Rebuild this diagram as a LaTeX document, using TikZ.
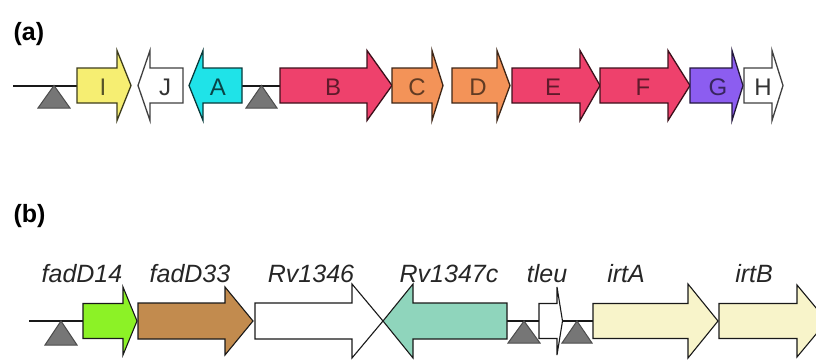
\documentclass[tikz,border=0pt]{standalone}
\usepackage{fontspec}
\setmainfont{Liberation Sans}
\definecolor{cI}{HTML}{F6EE72}
\definecolor{cA}{HTML}{1FE3E8}
\definecolor{cB}{HTML}{EE416C}
\definecolor{cC}{HTML}{F39358}
\definecolor{cG}{HTML}{8C5DF0}
\definecolor{cFa}{HTML}{8CF226}
\definecolor{cFb}{HTML}{C28B4E}
\definecolor{cRv}{HTML}{8FD5BC}
\definecolor{cIrt}{HTML}{F8F4CA}
\definecolor{cTri}{HTML}{767676}
% #1 style, #2 back x, #3 head base x, #4 tip x, #5 centre y, #6 body half height, #7 head half height
\newcommand\genearrow[7]{%
  \draw[#1] (#2,#5-#6) -- (#3,#5-#6) -- (#3,#5-#7) -- (#4,#5) -- (#3,#5+#7)
    -- (#3,#5+#6) -- (#2,#5+#6) -- cycle;}
\newcommand\promoter[4]{% apex x, apex y, half width, base y
  \draw[tri] (#1,#2) -- (#1+#3,#4) -- (#1-#3,#4) -- cycle;}
\begin{document}
\begin{tikzpicture}[x=1pt,y=-1pt,
  gA/.style={fill=#1, draw=#1!25!black, line width=1.3pt, line join=miter},
  gB/.style={fill=#1, draw=black!90, line width=1.1pt, line join=miter},
  tri/.style={fill=cTri, draw=black!70, line width=1pt},
  dna/.style={draw=black!90, line width=2pt},
  lblA/.style={anchor=base, font=\fontsize{24}{28}\selectfont, text=#1},
  lblB/.style={anchor=base, font=\fontsize{25}{30}\selectfont\itshape, text=black!85},
  panel/.style={anchor=base west, font=\fontsize{25}{30}\selectfont\bfseries}]
\useasboundingbox (0,0) rectangle (816,359);
\fill[white] (0,0) rectangle (816,359);
\clip (0,0) rectangle (816,359);

% ---------- panel (a) ----------
\node[panel] (pa) at (10,40) {(a)};
\draw[dna] (13,85.5) -- (77,85.5);
\draw[dna] (242,85.5) -- (280,85.5);
\promoter{54}{85.5}{16}{108}
\promoter{261.5}{85.5}{15.5}{108}
\genearrow{gA=cI}{77}{117}{131}{85.5}{17.5}{35}
\genearrow{gA=white}{183}{150}{138}{85.5}{17.5}{35}
\genearrow{gA=cA}{242}{203}{189}{85.5}{17.5}{35}
\genearrow{gA=cB}{280}{367}{392}{85.5}{17.5}{35}
\genearrow{gA=cC}{392}{432}{443}{85.5}{17.5}{35}
\genearrow{gA=cC}{452}{497}{510}{85.5}{17.5}{35}
\genearrow{gA=cB}{512}{580}{600}{85.5}{17.5}{35}
\genearrow{gA=cB}{600}{668}{690}{85.5}{17.5}{35}
\genearrow{gA=cG}{690}{732}{743}{85.5}{17.5}{35}
\genearrow{gA=white}{744}{772}{783}{85.5}{17.5}{35}
\node[lblA=cI!35!black] (lI) at (103,95) {I};
\node[lblA=black!80] (lJ) at (165,95) {J};
\node[lblA=cA!30!black] (lA) at (218,95) {A};
\node[lblA=cB!40!black] (lB) at (333,95) {B};
\node[lblA=cC!40!black] (lC) at (417,95) {C};
\node[lblA=cC!40!black] (lD) at (478,95) {D};
\node[lblA=cB!40!black] (lE) at (553,95) {E};
\node[lblA=cB!40!black] (lF) at (643,95) {F};
\node[lblA=cG!40!black] (lG) at (718,95) {G};
\node[lblA=black!80] (lH) at (763,95) {H};

% ---------- panel (b) ----------
\node[panel] (pb) at (10,222) {(b)};
\draw[dna] (29,321) -- (83,321);
\draw[dna] (507,321) -- (539,321);
\draw[dna] (562,321) -- (593,321);
\promoter{61}{321}{16}{345}
\promoter{524}{321}{16}{343}
\promoter{577}{321}{15}{343}
\genearrow{gB=cFa}{83}{123}{137}{321}{17.5}{34}
\genearrow{gB=cFb}{138}{225}{253}{321}{18}{34}
\genearrow{gB=white}{255}{352}{383}{321}{18}{37}
\genearrow{gB=cRv}{507}{413}{383}{321}{18}{37}
\genearrow{gB=white}{539}{557}{562.5}{321}{17.5}{34}
\genearrow{gB=cIrt}{593}{688}{718}{321}{17.5}{37}
\genearrow{gB=cIrt}{719}{797}{827}{321}{17.5}{36}
\node[lblB] (nfadD14) at (82,282) {fadD14};
\node[lblB] (nfadD33) at (190,282) {fadD33};
\node[lblB] (nRv1346) at (311,282) {Rv1346};
\node[lblB] (nRv1347c) at (449,282) {Rv1347c};
\node[lblB] (ntleu) at (547,282) {tleu};
\node[lblB] (nirtA) at (626,282) {irtA};
\node[lblB] (nirtB) at (754,282) {irtB};
\end{tikzpicture}
\end{document}
